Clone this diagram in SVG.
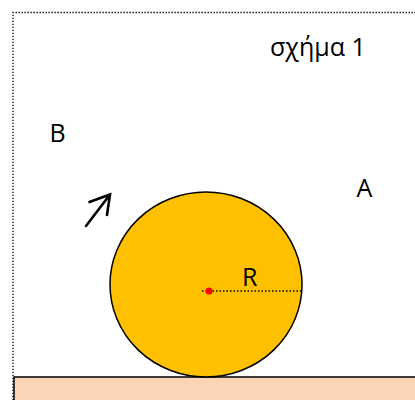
<svg xmlns="http://www.w3.org/2000/svg" width="415" height="400" viewBox="0 0 415 400">
<style>
.lbl{font-family:"Open Sans","Liberation Sans",sans-serif;font-size:25px;fill:#000}
</style>
<rect width="415" height="400" fill="#fff"/>
<g id="frame"><path d="M13 400 V12.5 H415" fill="none" stroke="#000" stroke-width="1.3" stroke-dasharray="1.3 1.7"/></g>
<g id="ground"><rect x="14" y="377" width="410" height="40" fill="#FBD5B5" stroke="#000" stroke-width="1.5"/></g>
<g id="wheel">
<ellipse cx="206" cy="284.5" rx="96" ry="92.5" fill="#FFC000" stroke="#000" stroke-width="1.5"/>
<line x1="202" y1="291" x2="302" y2="291" stroke="#000" stroke-width="1.5" stroke-dasharray="1.5 2"/>
<circle cx="209" cy="291" r="3.5" fill="#f00"/>
<text class="lbl" x="242" y="286">R</text>
</g>
<g id="connectors">
<path d="M86 226 L110 194.5 M89.5 202 L110 194.5 L107 215" fill="none" stroke="#000" stroke-width="2.6" stroke-linecap="round" stroke-linejoin="miter"/>
</g>
<g id="labels">
<text class="lbl" x="270" y="56">σχήμα 1</text>
<text class="lbl" x="49.5" y="142">B</text>
<text class="lbl" x="356.5" y="197">A</text>
</g>
</svg>
